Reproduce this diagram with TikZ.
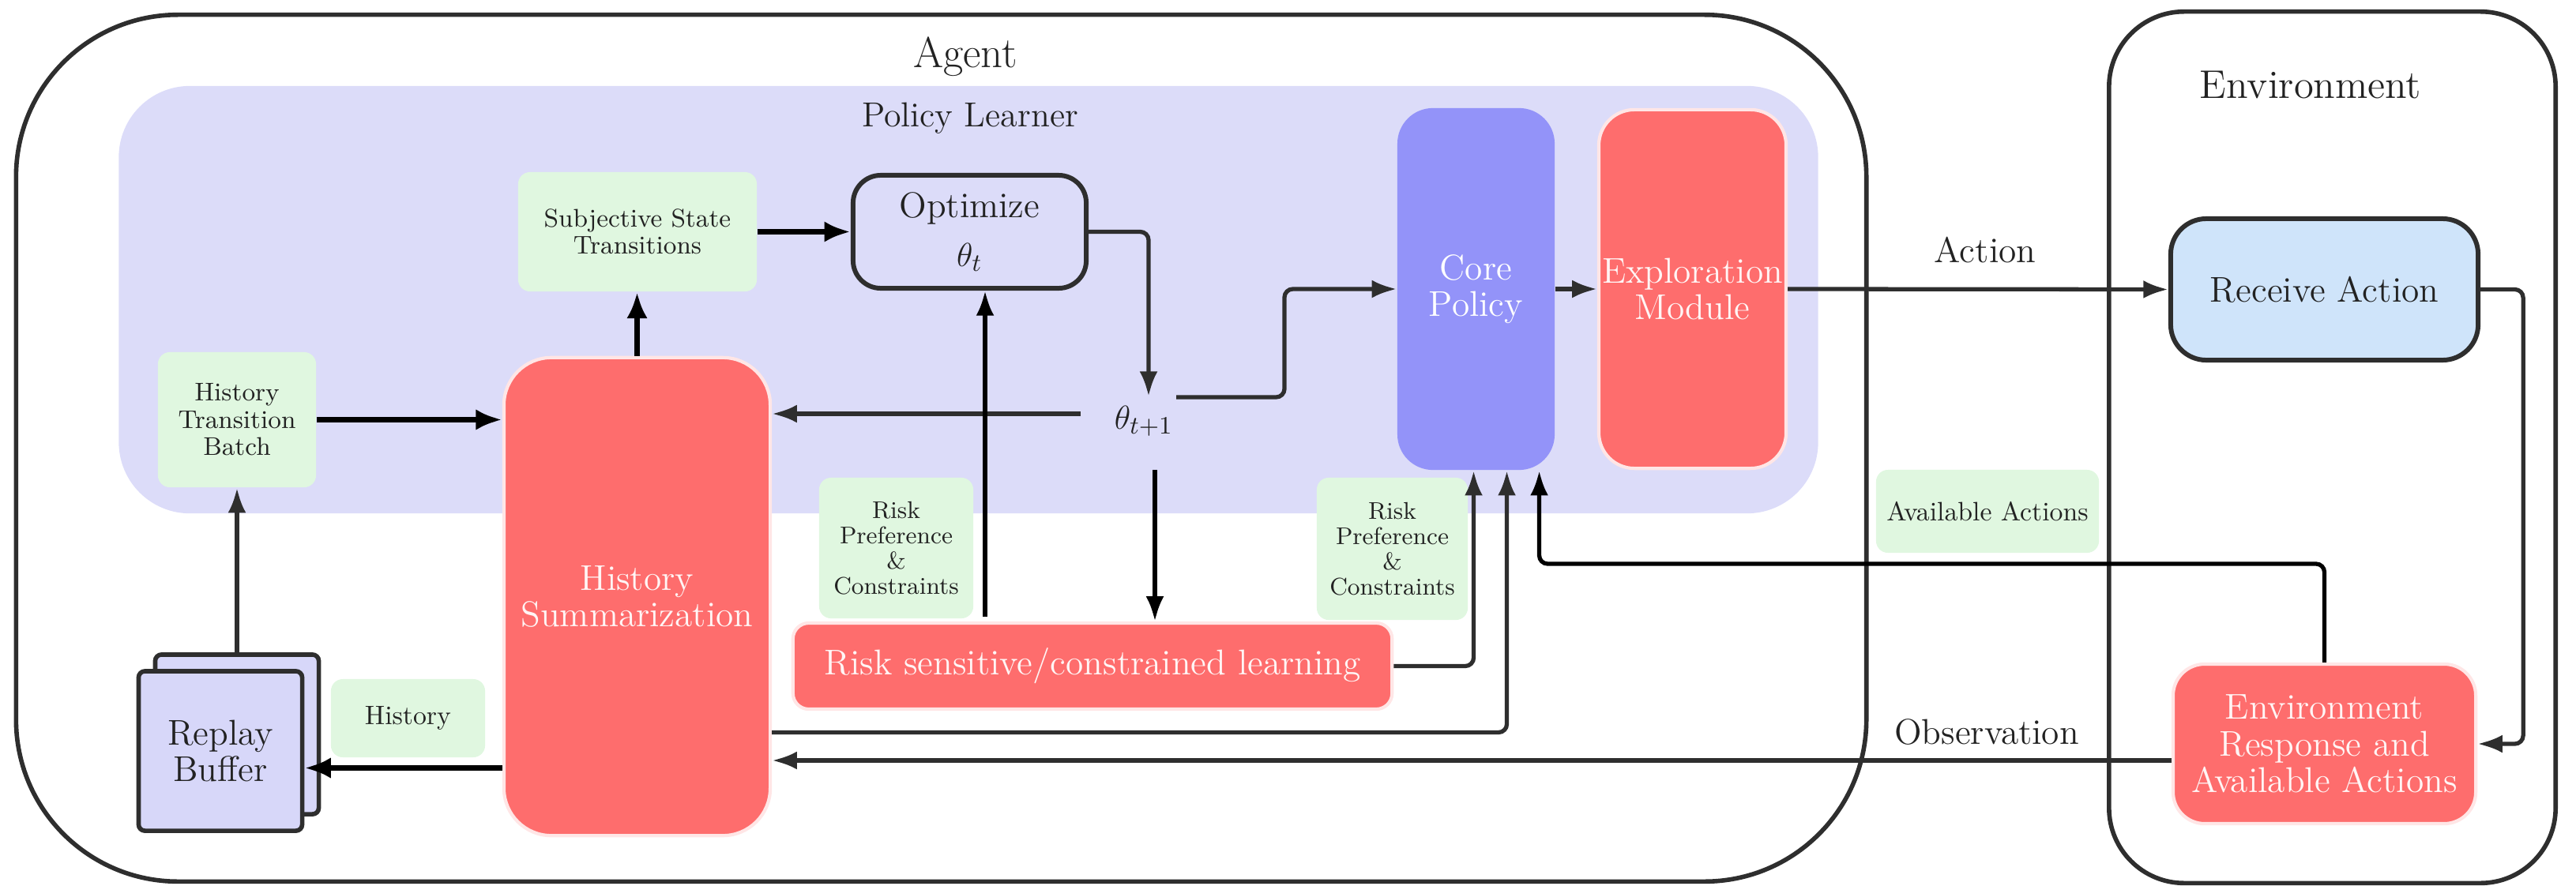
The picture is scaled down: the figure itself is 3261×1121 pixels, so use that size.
\documentclass[tikz,border=0pt]{standalone}
\usetikzlibrary{arrows.meta,calc}
\definecolor{bglav}{HTML}{DCDCF9}
\definecolor{lgreen}{HTML}{E0F7E0}
\definecolor{redc}{HTML}{FE6D6D}
\definecolor{redring}{HTML}{FFE6E6}
\definecolor{corec}{HTML}{9393F9}
\definecolor{recvc}{HTML}{CFE4FA}
\definecolor{rbc}{HTML}{D7D7F9}
\definecolor{linec}{HTML}{2E2E2E}
\definecolor{txt}{HTML}{222222}
\newcommand{\fmain}{\fontsize{12.9}{13.2}\selectfont}
\newcommand{\fagent}{\fontsize{15.6}{17}\selectfont}
\newcommand{\fenvt}{\fontsize{14.4}{16}\selectfont}
\newcommand{\fpl}{\fontsize{12.5}{14}\selectfont}
\newcommand{\fsub}{\fontsize{9.2}{9.8}\selectfont}
\newcommand{\frisk}{\fontsize{8.7}{9.1}\selectfont}
\newcommand{\flab}{\fontsize{9.6}{11}\selectfont}
\begin{document}
\begin{tikzpicture}[x=0.01cm,y=-0.01cm,
  frame/.style={draw=linec, line width=1.6pt, inner sep=0pt},
  glab/.style={fill=lgreen, rounded corners=0.15cm, inner sep=0pt, align=center, text=txt},
  redbox/.style={fill=redc, draw=redring, line width=1.2pt, inner sep=0pt, align=center, text=white!96!red, font=\fmain},
  optbox/.style={fill=bglav, draw=linec, line width=1.7pt, rounded corners=0.35cm, inner sep=0pt, align=center, text=txt, font=\fmain},
  corebox/.style={fill=corec, rounded corners=0.45cm, inner sep=0pt, align=center, text=white, font=\fmain},
  recvbox/.style={fill=recvc, draw=linec, line width=1.7pt, rounded corners=0.45cm, inner sep=0pt, align=center, text=txt, font=\fmain},
  rbbox/.style={fill=rbc, draw=linec, line width=1.6pt, rounded corners=0.08cm, inner sep=0pt, align=center, text=txt, font=\fmain},
  conn/.style={draw=linec, line width=1.5pt, rounded corners=3pt, -{Latex[length=9pt,width=6.5pt]}},
  connk/.style={draw=black, line width=2.2pt, -{Latex[length=9.5pt,width=7.5pt]}},
  plain/.style={anchor=base, text=txt}
]
\useasboundingbox (0,0) rectangle (3261,1121);

% containers
\node[frame, rounded corners=2.05cm, minimum width=23.41cm, minimum height=10.97cm] (agent) at (1191.5,567.5) {};
\node[frame, rounded corners=0.95cm, minimum width=5.65cm, minimum height=11.03cm] (env) at (2952.5,566.5) {};
\node[fill=bglav, rounded corners=0.9cm, minimum width=21.5cm, minimum height=5.41cm, inner sep=0pt] (pl) at (1226,379.5) {};

% titles
\node[plain, font=\fagent] (agentlbl) at (1222,85) {Agent};
\node[plain, font=\fpl] (pllbl) at (1228,160) {Policy Learner};
\node[plain, font=\fenvt] (envlbl) at (2925,124) {Environment};

% boxes
\node[glab, minimum width=3.02cm, minimum height=1.51cm, font=\fsub] (sub) at (807,293.5) {Subjective State\\Transitions};
\node[optbox, minimum width=2.95cm, minimum height=1.43cm] (opt) at (1227.5,293.5) {Optimize\\[4.5pt]$\theta_t$};
\node[glab, minimum width=2cm, minimum height=1.71cm, font=\fsub] (htb) at (300,531.5) {History\\Transition\\Batch};
\node[redbox, rounded corners=0.6cm, minimum width=3.37cm, minimum height=6.05cm] (hs) at (806.5,755.5) {History\\Summarization};
\node[glab, minimum width=1.95cm, minimum height=1.78cm, font=\frisk] (rp1) at (1134.5,694) {Risk\\Preference\\\&\\Constraints};
\node[redbox, rounded corners=0.2cm, minimum width=7.58cm, minimum height=1.09cm] (rsl) at (1383,843.5) {Risk sensitive/constrained learning};
\node[glab, minimum width=1.91cm, minimum height=1.8cm, font=\frisk] (rp2) at (1762.5,695) {Risk\\Preference\\\&\\Constraints};
\node[corebox, minimum width=1.99cm, minimum height=4.58cm] (core) at (1868.5,366) {Core\\Policy};
\node[redbox, rounded corners=0.45cm, minimum width=2.37cm, minimum height=4.54cm] (expl) at (2142.5,366) {Exploration\\Module};
\node[recvbox, minimum width=3.89cm, minimum height=1.79cm] (recv) at (2942.5,366.5) {Receive Action};
\node[redbox, rounded corners=0.4cm, minimum width=3.83cm, minimum height=2.02cm] (envr) at (2942.5,942) {Environment\\Response and\\Available Actions};
\node[glab, minimum width=2.82cm, minimum height=1.05cm, font=\flab] (avail) at (2516,647.5) {Available Actions};
\node[glab, minimum width=1.95cm, minimum height=0.99cm, font=\flab] (hist) at (516.5,909.5) {History};
\node[rbbox, minimum width=2.07cm, minimum height=2.02cm] (rbback) at (300,930) {};
\node[rbbox, minimum width=2.07cm, minimum height=2.02cm] (rbfront) at (279,951) {Replay\\Buffer};

\node[font=\fmain, inner sep=0pt, text=txt] (th) at (1448,533) {$\theta_{t+1}$};
\coordinate (thW) at (1368,524);
\coordinate (thN) at (1454,502);
\coordinate (thNE) at (1489,503);
\coordinate (thS) at (1462,595);
\coordinate (vx) at (1247,0);
\coordinate (ty) at (0,714);

% labels
\node[plain, font=\fmain] (actlbl) at (2513,332) {Action};
\node[plain, font=\fmain] (obslbl) at (2515,942) {Observation};

% connectors
\draw[connk] (htb.east) -- (hs.west |- htb.east);
\draw[conn] (rbback.north) -- (rbback.north |- htb.south);
\draw[connk] (hs.north) -- (hs.north |- sub.south);
\draw[connk] (sub.east) -- (opt.west |- sub.east);
\draw[conn] (opt.east) -| (thN);
\draw[conn] (thW) -- (hs.east |- thW);
\draw[conn] (thNE) -- ++(137,0) |- (core.west);
\draw[conn, draw=black] (thS) -- (thS |- rsl.north);
\draw[conn, draw=black] ($(vx |- rsl.north)+(0,-6)$) -- (vx |- opt.south);
\draw[conn] (rsl.east) -| ([xshift=-0.03cm]core.south);
\draw[conn] ($(hs.east)+(0,172)$) -| ([xshift=0.39cm]core.south);
\draw[conn, draw=black] (envr.north) -- (envr.north |- ty) -| ([xshift=0.8cm]core.south);
\draw[conn] (core.east) -- (expl.west);
\draw[conn] (expl.east) -- (recv.west);
\draw[conn] (recv.east) -- ++(54,0) |- (envr.east);
\draw[conn] ($(envr.west)+(0,21)$) coordinate (o1) -- (o1 -| hs.east);
\draw[connk] ($(hs.west)+(0,217)$) coordinate (o2) -- (o2 -| rbfront.east);
\end{tikzpicture}
\end{document}
